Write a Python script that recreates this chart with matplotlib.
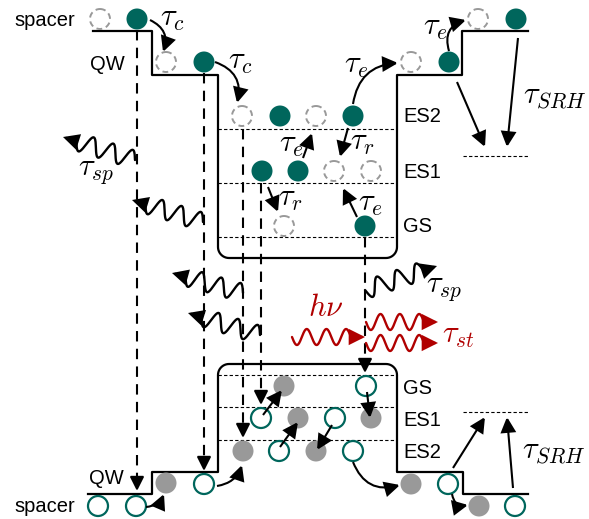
import numpy as np
import matplotlib
matplotlib.use("Agg")
import matplotlib.pyplot as plt
from matplotlib.patches import Circle, FancyArrowPatch

plt.rcParams['font.family'] = ['Liberation Sans', 'DejaVu Sans']
plt.rcParams['mathtext.fontset'] = 'cm'

TEAL = '#00665c'
GRAY = '#999999'
RED = '#b00000'

# band edges (pixel coords, y down)
cb_path = [(93, 31), (152, 31), (152, 75), (218, 75), (218, 258), (397, 258),
           (397, 75), (462, 75), (462, 31), (528, 31)]
vb_path = [(88, 494), (152, 494), (152, 472), (218, 472), (218, 364), (397, 364),
           (397, 472), (463, 472), (463, 494), (528, 494)]
cb_levels = [129, 183, 237]      # ES2, ES1, GS
vb_levels = [375, 407, 440]      # GS, ES1, ES2
srh_levels = [156, 412]

# electrons (conduction band)
e_filled = [(137, 19), (204, 62), (280, 116), (353, 116), (262, 171), (298, 171),
            (365, 226), (449, 62), (516, 19)]
e_empty = [(100, 19), (166, 62), (242, 116), (316, 116), (334, 171), (371, 171),
           (284, 226), (411, 62), (478, 19)]
# holes (valence band)
h_gray = [(166, 483), (243, 451), (316, 451), (298, 418), (371, 418), (284, 386),
          (411, 484), (479, 506)]
h_teal = [(98, 506), (136, 506), (204, 484), (279, 451), (353, 451), (261, 418),
          (335, 418), (366, 386), (448, 484), (515, 506)]

# vertical recombination lines: x, y start, y end
recomb = [(137, 30, 491), (204, 73, 471), (243, 129, 438), (261, 183, 405), (365, 237, 373)]

# spontaneous emission wiggles: start -> tip
sp_waves = [((135, 160), (63, 137)), ((203, 222), (132, 200)), ((243, 293), (172, 273)),
            ((260, 335), (188, 313)), ((365, 290), (437, 266))]
st_in = ((292, 337), (365, 337))
st_out = [((366, 322), (438, 322)), ((366, 343), (438, 343))]

# curved arrows: start, end, rad
curved = [((150, 20), (163, 52), -0.45), ((215, 62), (237, 103), -0.45),
          ((353, 104), (398, 63), -0.4), ((449, 51), (466, 20), -0.5),
          ((146, 507), (164, 494), 0.3), ((217, 486), (242, 465), 0.3),
          ((353, 462), (400, 485), 0.45), ((452, 494), (468, 505), 0.5)]
# straight arrows: start, end
straight = [((303, 158), (312, 133)), ((348, 128), (340, 157)), ((268, 187), (278, 212)),
            ((357, 217), (343, 188)), ((457, 82), (485, 147)), ((518, 38), (507, 147)),
            ((453, 468), (485, 417)), ((513, 488), (507, 417)),
            ((263, 415), (282, 390)), ((280, 447), (298, 422)), ((332, 425), (317, 450)),
            ((367, 392), (370, 418))]

fig = plt.figure(figsize=(5.89, 5.19), dpi=100)
ax = fig.add_axes([0, 0, 1, 1])
ax.set_xlim(0, 589)
ax.set_ylim(519, 0)
ax.axis('off')


def rounded(pts, r, bottom):
    xs, ys = [], []
    for i, (x, y) in enumerate(pts):
        if i == 4:
            sy = -1 if bottom else 1
            cx, cy = x + r, y + sy * r
            t = np.linspace(0, 1, 12)
            xs += list(cx - r * np.cos(t * np.pi / 2))
            ys += list(cy - sy * r * np.sin(t * np.pi / 2))
        elif i == 5:
            sy = -1 if bottom else 1
            cx, cy = x - r, y + sy * r
            t = np.linspace(0, 1, 12)
            xs += list(cx + r * np.sin(t * np.pi / 2))
            ys += list(cy - sy * r * np.cos(t * np.pi / 2))
        else:
            xs.append(x)
            ys.append(y)
    ax.plot(xs, ys, color='black', lw=1.6)


rounded(cb_path, 11, True)
rounded(vb_path, 11, False)

for y in cb_levels + vb_levels:
    ax.plot([218, 397], [y, y], color='black', lw=0.8, ls=(0, (3, 2)))
for y in srh_levels:
    ax.plot([463, 528], [y, y], color='black', lw=0.8, ls=(0, (3, 2)))


def arrow(p0, p1, rad=0.0, color='black', lw=1.5, ms=15):
    a = FancyArrowPatch(p0, p1, connectionstyle=f"arc3,rad={rad}",
                        arrowstyle='-|>,head_length=0.6,head_width=0.3',
                        mutation_scale=ms, color=color, lw=lw, shrinkA=0, shrinkB=0,
                        joinstyle='miter', capstyle='butt', zorder=5)
    ax.add_patch(a)


for x, y0, y1 in recomb:
    ax.plot([x, x], [y0, y1 - 12], color='black', lw=1.5, ls=(0, (5, 3.5)))
    arrow((x, y1 - 14), (x, y1), lw=1.2)


def wave(p0, p1, color='black', wl=21.0, amp=9.0, head=14):
    p0, p1 = np.array(p0, float), np.array(p1, float)
    d = p1 - p0
    L = np.hypot(*d)
    u = d / L
    n = np.array([-u[1], u[0]])
    lw_len = L - head
    k = max(1, round(2 * lw_len / wl))
    w = 2 * lw_len / k
    s = np.linspace(0, lw_len, 300)
    off = amp * np.sin(2 * np.pi * s / w)
    pts = p0 + np.outer(s, u) + np.outer(off, n)
    ax.plot(pts[:, 0], pts[:, 1], color=color, lw=1.7, solid_capstyle='round')
    arrow(tuple(pts[-1]), tuple(p1), color=color, lw=1.7)


for p0, p1 in sp_waves:
    wave(p0, p1)
wave(*st_in, color=RED, wl=20, amp=8)
for p0, p1 in st_out:
    wave(p0, p1, color=RED, wl=20, amp=8)

for c in e_filled:
    ax.add_patch(Circle(c, 10.5, facecolor=TEAL, edgecolor='none', zorder=4))
for c in e_empty:
    ax.add_patch(Circle(c, 10, facecolor='white', edgecolor=GRAY, lw=1.4,
                        ls=(0, (3, 2)), zorder=4))
for c in h_gray:
    ax.add_patch(Circle(c, 10.5, facecolor=GRAY, edgecolor='none', zorder=4))
for c in h_teal:
    ax.add_patch(Circle(c, 10, facecolor='white', edgecolor=TEAL, lw=1.6, zorder=4))

for p0, p1, r in curved:
    arrow(p0, p1, rad=r)
for p0, p1 in straight:
    arrow(p0, p1)

fs = 14.5
for txt, x, y in [('spacer', 14, 20), ('QW', 90, 65), ('QW', 89, 478), ('spacer', 14, 507)]:
    ax.text(x, y, txt, fontsize=fs, ha='left', va='center')
for txt, y in [('ES2', 117), ('ES1', 172), ('GS', 227), ('GS', 388), ('ES1', 421), ('ES2', 452)]:
    ax.text(403, y, txt, fontsize=fs, ha='left', va='center')

mfs = 22
math_labels = [(r'$\tau_c$', 172, 18), (r'$\tau_c$', 240, 61), (r'$\tau_{sp}$', 96, 171),
               (r'$\tau_e$', 356, 65), (r'$\tau_e$', 435, 27), (r'$\tau_{SRH}$', 555, 96),
               (r'$\tau_e$', 291, 144), (r'$\tau_r$', 362, 142), (r'$\tau_r$', 290, 198),
               (r'$\tau_e$', 370, 203), (r'$\tau_{sp}$', 444, 288), (r'$\tau_{SRH}$', 554, 451)]
for txt, x, y in math_labels:
    ax.text(x, y, txt, fontsize=mfs, ha='center', va='center', zorder=6)
ax.text(326, 308, r'$h\nu$', fontsize=mfs, ha='center', va='center', color=RED)
ax.text(458, 335, r'$\tau_{st}$', fontsize=mfs, ha='center', va='center', color=RED)

fig.savefig('out.png', dpi=100)
